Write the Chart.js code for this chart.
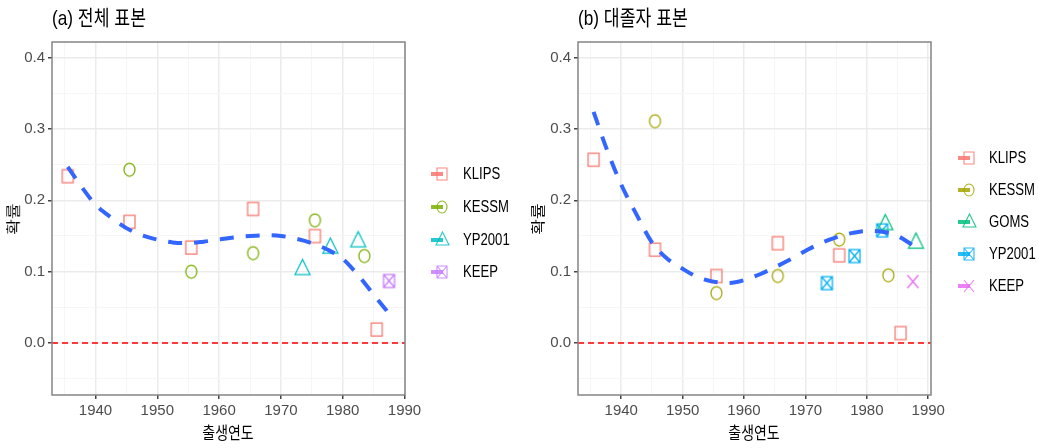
<!DOCTYPE html>
<html><head><meta charset="utf-8">
<script src="https://cdn.jsdelivr.net/npm/chart.js@4.4.1/dist/chart.umd.min.js"></script>
<style>
html,body{margin:0;padding:0;background:#fff;width:1039px;height:448px;overflow:hidden;position:relative}
canvas.c{position:absolute;top:0}
.t{position:absolute;white-space:nowrap;color:#000;font-family:"Liberation Sans","Noto Sans CJK KR",sans-serif;line-height:24px;height:24px}
.lg{position:absolute;white-space:nowrap;color:#000;font-family:"Liberation Sans",sans-serif;font-size:16px;line-height:20px;height:20px;transform:scaleX(0.82);transform-origin:0 50%}
canvas.ic{position:absolute}
</style></head>
<body>
<canvas id="cL" class="c" width="520" height="448" style="left:0px;width:520px;height:448px"></canvas>
<canvas id="cR" class="c" width="519" height="448" style="left:520px;width:519px;height:448px"></canvas>

<div class="t" style="left:52px;top:6px;font-size:21px;transform:scaleX(0.82);transform-origin:0 50%">(a) 전체 표본</div>
<div class="t" style="left:578px;top:6px;font-size:21px;transform:scaleX(0.82);transform-origin:0 50%">(b) 대졸자 표본</div>
<div class="t" style="left:168px;width:120px;text-align:center;top:422px;font-size:17px;transform:scaleX(0.82)">출생연도</div>
<div class="t" style="left:694px;width:120px;text-align:center;top:422px;font-size:17px;transform:scaleX(0.82)">출생연도</div>
<div class="t" style="left:-16px;width:60px;text-align:center;top:207px;font-size:17px;transform:rotate(-90deg) scaleY(0.82)">확률</div>
<div class="t" style="left:509px;width:60px;text-align:center;top:207px;font-size:17px;transform:rotate(-90deg) scaleY(0.82)">확률</div>
<div id="legends"></div>

<script>
// ---------- data ----------
const xTickVals = [1935, 1940, 1945, 1950, 1955, 1960, 1965, 1970, 1975, 1980, 1985, 1990];
const yTickVals = [-0.05, 0, 0.05, 0.1, 0.15, 0.2, 0.25, 0.3, 0.35, 0.4];

// (a) 전체 표본
const aKlipsX = [1935.5, 1945.5, 1955.5, 1965.5, 1975.5, 1985.5];
const aKlipsY = [0.234, 0.170, 0.134, 0.188, 0.150, 0.019];
const aKessmX = [1945.5, 1955.5, 1965.5, 1975.5, 1983.5];
const aKessmY = [0.243, 0.100, 0.126, 0.172, 0.122];
const aYpX = [1973.5, 1978, 1982.5];
const aYpY = [0.103, 0.133, 0.142];
const aKeepX = [1987.5];
const aKeepY = [0.087];
const aSmoothX = [1935.5, 1937.5, 1940, 1942.5, 1945, 1947.5, 1950, 1952.5, 1955, 1957.5, 1960, 1962.5, 1965, 1967.5, 1970, 1972.5, 1975, 1977.5, 1980, 1982.5, 1985, 1987.5];
const aSmoothY = [0.247, 0.222, 0.194, 0.176, 0.161, 0.151, 0.145, 0.141, 0.140, 0.142, 0.145, 0.148, 0.150, 0.151, 0.150, 0.146, 0.140, 0.131, 0.118, 0.095, 0.068, 0.041];
const aXRange = [1932.96, 1990.08];

// (b) 대졸자 표본
const bKlipsX = [1935.5, 1945.5, 1955.5, 1965.5, 1975.5, 1985.5];
const bKlipsY = [0.257, 0.131, 0.094, 0.140, 0.123, 0.014];
const bKessmX = [1945.5, 1955.5, 1965.5, 1975.5, 1983.5];
const bKessmY = [0.311, 0.070, 0.094, 0.145, 0.095];
const bGomsX = [1983, 1988];
const bGomsY = [0.166, 0.140];
const bYpX = [1973.5, 1978, 1982.5];
const bYpY = [0.084, 0.122, 0.158];
const bKeepX = [1987.5];
const bKeepY = [0.086];
const bSmoothX = [1935.5, 1937.5, 1940, 1942.5, 1945, 1947.5, 1950, 1952.5, 1955, 1957.5, 1960, 1962.5, 1965, 1967.5, 1970, 1972.5, 1975, 1977.5, 1980, 1982.5, 1985, 1987.5];
const bSmoothY = [0.324, 0.275, 0.222, 0.180, 0.141, 0.118, 0.104, 0.092, 0.086, 0.084, 0.088, 0.096, 0.106, 0.117, 0.129, 0.140, 0.148, 0.154, 0.157, 0.156, 0.150, 0.137];
const bXRange = [1932.96, 1990.45];

const yRange = [-0.073, 0.422];
const zeroY = [0, 0];

// ---------- helpers ----------
function fontAvail(f){
  const g=document.createElement('canvas').getContext('2d');
  g.font='20px monospace'; const a=g.measureText('abcdefgMW1940').width;
  g.font='20px "'+f+'", monospace'; return g.measureText('abcdefgMW1940').width!==a;
}
const tickFamily = fontAvail('Liberation Sans Narrow') ? '"Liberation Sans Narrow"' : '"Liberation Sans"';

function marker(shape,color,w,h,lw){
  const pad=2; const c=document.createElement('canvas');
  let H=h+2*pad;
  if(shape==='triangle'){ H = Math.round(2*(pad+2*h/3)); }
  c.width=w+2*pad; c.height=H;
  const g=c.getContext('2d'); g.strokeStyle=color; g.lineWidth=lw;
  const x0=pad,y0=pad,x1=pad+w,y1=pad+h,cx=pad+w/2,cy=pad+h/2;
  g.beginPath();
  if(shape==='square'||shape==='boxx') g.rect(x0,y0,w,h);
  if(shape==='circle') g.ellipse(cx,cy,w/2,h/2,0,0,Math.PI*2);
  if(shape==='triangle'){ g.moveTo(cx,y0); g.lineTo(x1,y1); g.lineTo(x0,y1); g.closePath(); }
  if(shape==='boxx'||shape==='x'){ g.moveTo(x0,y0); g.lineTo(x1,y1); g.moveTo(x1,y0); g.lineTo(x0,y1); }
  g.stroke(); return c;
}
const dims={square:[11,13],circle:[11,13],triangle:[15,15],boxx:[11,13],x:[11,13]};
function pts(xs,ys){ return xs.map((x,i)=>({x:x,y:ys[i]})); }
function scat(label,xs,ys,shape,color){
  const d=dims[shape];
  return {type:'scatter',label:label,data:pts(xs,ys),pointStyle:marker(shape,color,d[0],d[1],1.25),
    pointRadius:6,pointHoverRadius:6,backgroundColor:color,borderColor:color};
}
function smooth(xs,ys){
  return {type:'line',data:pts(xs,ys),borderColor:'#3366FF',borderWidth:4,borderDash:[14,12],
    pointRadius:0,cubicInterpolationMode:'monotone',fill:false};
}
function zeroLine(xr){
  return {type:'line',data:pts(xr,zeroY),borderColor:'#FF0000',borderWidth:1.5,borderDash:[6,4],pointRadius:0,fill:false};
}
const borderPlugin={id:'pb',afterDatasetsDraw(ch){
  const a=ch.chartArea,g=ch.ctx; g.save(); g.strokeStyle='#858585'; g.lineWidth=1.5;
  g.strokeRect(a.left,a.top,a.right-a.left,a.bottom-a.top); g.restore();
}};
const isMajX=v=>Math.abs(v%10)<1e-6;
const isMajY=v=>Math.abs(Math.round(v*10)-v*10)<1e-6;
function makeChart(id,xr,yW,padR,datasets){
  return new Chart(document.getElementById(id),{
    data:{datasets:datasets},
    options:{
      responsive:false,animation:false,maintainAspectRatio:false,
      layout:{padding:{top:42,right:padR,left:0,bottom:0}},
      plugins:{legend:{display:false},tooltip:{enabled:false}},
      scales:{
        x:{type:'linear',min:xr[0],max:xr[1],
          afterBuildTicks:s=>{s.ticks=xTickVals.map(v=>({value:v}));},
          afterFit:s=>{s.height=53;},
          ticks:{autoSkip:false,maxRotation:0,padding:3,color:'#4D4D4D',font:{family:tickFamily,size:15},
            callback:v=>isMajX(v)?String(v):''},
          grid:{color:c=>isMajX(c.tick.value)?'#EBEBEB':'#F5F5F5',lineWidth:c=>isMajX(c.tick.value)?1.5:0.9,
            tickLength:4,tickColor:c=>isMajX(c.tick.value)?'#444':'rgba(0,0,0,0)'},
          border:{display:false}},
        y:{type:'linear',min:yRange[0],max:yRange[1],
          afterBuildTicks:s=>{s.ticks=yTickVals.map(v=>({value:v}));},
          afterFit:s=>{s.width=yW;},
          ticks:{autoSkip:false,padding:3,color:'#4D4D4D',font:{family:tickFamily,size:15},
            callback:v=>(isMajY(v)&&v>=-1e-9)?v.toFixed(1):''},
          grid:{color:c=>isMajY(c.tick.value)?'#EBEBEB':'#F5F5F5',lineWidth:c=>isMajY(c.tick.value)?1.5:0.9,
            tickLength:4,tickColor:c=>(isMajY(c.tick.value)&&c.tick.value>-1e-9)?'#444':'rgba(0,0,0,0)'},
          border:{display:false}}
      }
    },
    plugins:[borderPlugin]
  });
}

const colA={KLIPS:'#F8766D',KESSM:'#7CAE00',YP2001:'#00BFC4',KEEP:'#C77CFF'};
const colB={KLIPS:'#F8766D',KESSM:'#A3A500',GOMS:'#00BF7D',YP2001:'#00B0F6',KEEP:'#E76BF3'};

makeChart('cL',aXRange,52,115,[
  smooth(aSmoothX,aSmoothY),
  scat('KLIPS',aKlipsX,aKlipsY,'square',colA.KLIPS),
  scat('KESSM',aKessmX,aKessmY,'circle',colA.KESSM),
  scat('YP2001',aYpX,aYpY,'triangle',colA.YP2001),
  scat('KEEP',aKeepX,aKeepY,'boxx',colA.KEEP),
  zeroLine(aXRange)
]);
makeChart('cR',bXRange,58,108,[
  smooth(bSmoothX,bSmoothY),
  scat('KLIPS',bKlipsX,bKlipsY,'square',colB.KLIPS),
  scat('KESSM',bKessmX,bKessmY,'circle',colB.KESSM),
  scat('GOMS',bGomsX,bGomsY,'triangle',colB.GOMS),
  scat('YP2001',bYpX,bYpY,'boxx',colB.YP2001),
  scat('KEEP',bKeepX,bKeepY,'x',colB.KEEP),
  zeroLine(bXRange)
]);

// ---------- legends ----------
function legendIcon(shape,color){
  const c=document.createElement('canvas'); c.width=26; c.height=20; c.className='ic';
  const g=c.getContext('2d');
  g.globalAlpha=0.85;
  g.fillStyle=color; g.fillRect(1,8,12,4);
  const m=marker(shape,color,shape==='triangle'?13:10,shape==='triangle'?13:12,1.1);
  g.drawImage(m,Math.round(12-m.width/2),Math.round(10-m.height/2));
  return c;
}
const legA=[['KLIPS','square'],['KESSM','circle'],['YP2001','triangle'],['KEEP','boxx']];
const legAY=[174,207,240,272];
const legB=[['KLIPS','square'],['KESSM','circle'],['GOMS','triangle'],['YP2001','boxx'],['KEEP','x']];
const legBY=[158,190,222,254,286];
const host=document.getElementById('legends');
function buildLegend(items,ys,cols,iconX,textX){
  items.forEach((it,i)=>{
    const ic=legendIcon(it[1],cols[it[0]]); ic.style.left=iconX+'px'; ic.style.top=(ys[i]-10)+'px'; host.appendChild(ic);
    const t=document.createElement('div'); t.className='lg'; t.textContent=it[0];
    t.style.left=textX+'px'; t.style.top=(ys[i]-10)+'px'; host.appendChild(t);
  });
}
buildLegend(legA,legAY,colA,430,463);
buildLegend(legB,legBY,colB,957,989);
</script>
</body></html>
